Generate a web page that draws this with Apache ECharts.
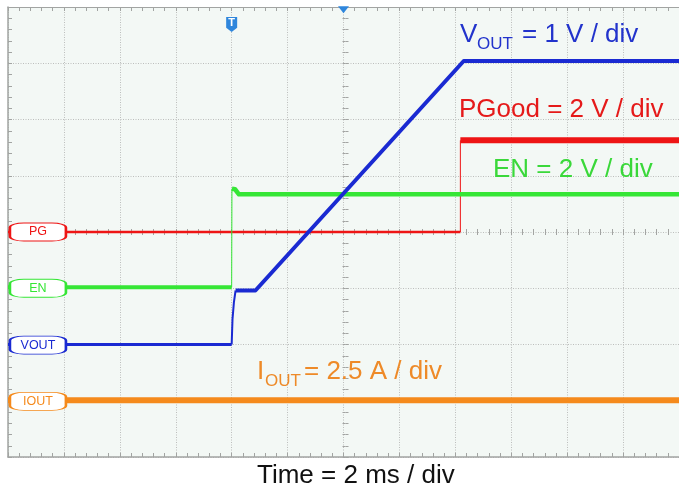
<!DOCTYPE html>
<html>
<head>
<meta charset="utf-8">
<script src="https://cdn.jsdelivr.net/npm/echarts@6/dist/echarts.min.js"></script>
<style>
  html, body { margin: 0; padding: 0; background: #fff; }
  #chart { width: 679px; height: 493px; }
</style>
</head>
<body>
<div id="chart"></div>
<script>
// time axis in ms (2 ms / div, trigger at 0); levels in screen divisions from the bottom
const timeRange = [-8, 16]
const timeStep = 2
const divRange = [0, 8]

// PG (power good)
const pgLow = [[-8, 4.0], [8.18, 4.0]]
const pgEdge = [[8.18, 4.0], [8.18, 5.63]]
const pgHigh = [[8.18, 5.63], [16, 5.63]]

// EN
const enLow = [[-8, 3.02], [0, 3.02]]
const enEdge = [[0, 3.02], [0.01, 4.77]]
const enHigh = [[0.01, 4.77], [0.12, 4.76], [0.26, 4.67], [16, 4.67]]

// VOUT
const voutLow = [[-8, 2.0], [0, 2.0]]
const voutRise = [[0, 2.0], [0.03, 2.45], [0.08, 2.75], [0.14, 2.96]]
const voutMain = [[0.14, 2.96], [0.85, 2.96], [8.3, 7.04], [16, 7.04]]

// IOUT
const ioutLine = [[-8, 1.01], [16, 1.01]]

// channel tags on the left
const tagNames = ['PG', 'EN', 'VOUT', 'IOUT']
const tagLevels = [4.0, 3.0, 1.99, 0.99]

const BLUE = '#1a2ad2'
const RED = '#ee1515'
const GREEN = '#35e635'
const ORANGE = '#f58a1c'
const tagColors = [RED, GREEN, BLUE, ORANGE]
const FONT = 'Liberation Sans, Arial, sans-serif'

const gridColor = '#bcbebc'
const edgeColor = '#a2a4a2'

function line(data, color, width, extra) {
  return Object.assign({
    type: 'line',
    data: data,
    showSymbol: false,
    symbol: 'none',
    silent: true,
    lineStyle: { color: color, width: width, cap: 'butt', join: 'round' },
    z: 3
  }, extra || {})
}

// the tags sit on the traces, at the left edge of the screen
const tagPoints = tagNames.map((name, i) => ({
  coord: [-6.93, tagLevels[i]],
  symbol: 'roundRect',
  symbolSize: [56, 18],
  itemStyle: { color: '#ffffff', borderColor: tagColors[i], borderWidth: 1.5 },
  label: {
    show: true, position: 'inside', formatter: name,
    color: tagColors[i], fontSize: 12.5, fontFamily: FONT
  }
}))

function tickAxis(pos, extra) {
  return Object.assign({
    type: 'value',
    position: pos,
    axisLine: { show: false, onZero: false },
    axisTick: { show: true, inside: true, length: 3, lineStyle: { color: edgeColor } },
    minorTick: { show: true, splitNumber: 5, length: 3, lineStyle: { color: edgeColor } },
    axisLabel: { show: false },
    splitLine: { show: false }
  }, extra)
}

const xBase = { min: timeRange[0], max: timeRange[1], interval: timeStep }
const yBase = { min: divRange[0], max: divRange[1], interval: 1 }
const edgeLine = { show: true, onZero: false, lineStyle: { color: edgeColor, width: 1.5 } }
const edgeTick = { show: true, inside: true, length: 4, lineStyle: { color: edgeColor } }
const edgeMinor = { show: true, splitNumber: 5, length: 4, lineStyle: { color: edgeColor } }
const gridLines = { show: true, lineStyle: { color: gridColor, type: [1, 1.5] } }

let option = {
  animation: false,
  backgroundColor: '#ffffff',
  grid: {
    left: 8, top: 7, right: -4, bottom: 36,
    show: true, backgroundColor: '#f3f8f5', borderWidth: 0
  },
  xAxis: [
    tickAxis('bottom', Object.assign({}, xBase, {
      axisLine: edgeLine, axisTick: edgeTick, minorTick: edgeMinor, splitLine: gridLines
    })),
    tickAxis('top', Object.assign({}, xBase, {
      axisLine: { show: true, onZero: false, lineStyle: { color: edgeColor, width: 1 } },
      axisTick: edgeTick, minorTick: edgeMinor
    })),
    // ticks across the horizontal centre line
    tickAxis('bottom', Object.assign({}, xBase, { offset: -225 })),
    tickAxis('bottom', Object.assign({}, xBase, {
      offset: -225,
      axisTick: { show: true, inside: false, length: 3, lineStyle: { color: edgeColor } }
    }))
  ],
  yAxis: [
    tickAxis('left', Object.assign({}, yBase, {
      axisLine: edgeLine, axisTick: edgeTick, minorTick: edgeMinor, splitLine: gridLines
    })),
    // ticks across the vertical centre line
    tickAxis('left', Object.assign({}, yBase, { offset: -337.5 })),
    tickAxis('left', Object.assign({}, yBase, {
      offset: -337.5,
      axisTick: { show: true, inside: false, length: 3, lineStyle: { color: edgeColor } }
    }))
  ],
  series: [
    line(ioutLine, ORANGE, 6, {
      markPoint: { silent: true, z: 10, data: [tagPoints[3]] }
    }),
    line(pgLow, RED, 2.5, {
      markPoint: { silent: true, z: 10, data: [tagPoints[0]] }
    }),
    line(pgEdge, RED, 1),
    line(pgHigh, RED, 6),
    line(enLow, GREEN, 4, {
      markPoint: { silent: true, z: 10, data: [tagPoints[1]] }
    }),
    line(enEdge, GREEN, 1),
    line(enHigh, GREEN, 4.5),
    line(voutLow, BLUE, 3, {
      markPoint: { silent: true, z: 10, data: [tagPoints[2]] }
    }),
    line(voutRise, BLUE, 2),
    line(voutMain, BLUE, 4, {
      markPoint: {
        silent: true,
        z: 10,
        data: [
          {
            // trigger marker
            coord: [0, 7.69],
            symbol: 'path://M0,0 L10,0 L10,10 L5,14 L0,10 Z',
            symbolSize: [11, 15],
            itemStyle: { color: '#2f86dc' },
            label: { show: true, position: 'inside', formatter: 'T', color: '#fff', fontSize: 11, fontWeight: 'bold', fontFamily: FONT, offset: [0, -1] }
          },
          {
            coord: [4, 7.95],
            symbol: 'triangle',
            symbolRotate: 180,
            symbolSize: [11, 7],
            itemStyle: { color: '#2f86dc' },
            label: { show: false }
          }
        ]
      }
    })
  ],
  graphic: [
    { type: 'text', left: 460, top: 22, z: 100, style: { text: 'V', font: '26px ' + FONT, fill: '#2233cc' } },
    { type: 'text', left: 477, top: 36, z: 100, style: { text: 'OUT', font: '17px ' + FONT, fill: '#2233cc' } },
    { type: 'text', left: 522, top: 22, z: 100, style: { text: '= 1 V / div', font: '26px ' + FONT, fill: '#2233cc' } },
    { type: 'text', left: 459, top: 97, z: 100, style: { text: 'PGood = 2 V / div', font: '26px ' + FONT, fill: '#e51a1a' } },
    { type: 'text', left: 493, top: 157, z: 100, style: { text: 'EN = 2 V / div', font: '26px ' + FONT, fill: '#3ad83a' } },
    { type: 'text', left: 257, top: 359, z: 100, style: { text: 'I', font: '26px ' + FONT, fill: '#ee8a28' } },
    { type: 'text', left: 265, top: 373, z: 100, style: { text: 'OUT', font: '17px ' + FONT, fill: '#ee8a28' } },
    { type: 'text', left: 304, top: 359, z: 100, style: { text: '= 2.5 A / div', font: '26px ' + FONT, fill: '#ee8a28' } },
    { type: 'text', left: 257, top: 463, z: 100, style: { text: 'Time = 2 ms / div', font: '26px ' + FONT, fill: '#111111' } }
  ]
}

const myChart = echarts.init(document.getElementById('chart'), null, { renderer: 'canvas' })
myChart.setOption(option)
window.addEventListener('resize', () => myChart.resize())
</script>
</body>
</html>
